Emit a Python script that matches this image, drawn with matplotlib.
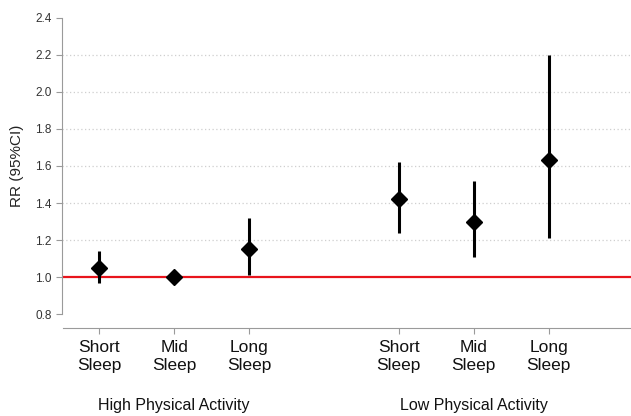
import matplotlib.pyplot as plt

plt.rcParams['font.family'] = ['Liberation Sans', 'DejaVu Sans']

positions = [1, 2, 3, 5, 6, 7]
cat_labels = ['Short\nSleep', 'Mid\nSleep', 'Long\nSleep',
              'Short\nSleep', 'Mid\nSleep', 'Long\nSleep']
rr = [1.05, 1.00, 1.15, 1.42, 1.30, 1.63]
ci_low = [0.97, 1.00, 1.01, 1.24, 1.11, 1.21]
ci_high = [1.14, 1.00, 1.32, 1.62, 1.52, 2.20]
group_labels = ['High Physical Activity', 'Low Physical Activity']
group_pos = [2, 6]

fig = plt.figure(figsize=(6.31, 4.16), dpi=100)
ax = fig.add_axes([0.098, 0.245, 0.902, 0.712])

for y in [1.2, 1.4, 1.6, 1.8, 2.0, 2.2]:
    ax.axhline(y, color='#cfcfcf', lw=0.9, ls=(0, (1, 2)), zorder=0)
ax.axhline(1.0, color='#e8141c', lw=1.6, zorder=1)

yerr = [[r - lo for r, lo in zip(rr, ci_low)],
        [hi - r for r, hi in zip(rr, ci_high)]]
ax.errorbar(positions, rr, yerr=yerr, fmt='D', color='black',
            ecolor='black', elinewidth=2.2, capsize=0, markersize=8.5, zorder=3)

ax.set_xlim(0.5, 8.1)
ax.set_ylim(0.8, 2.4)
ax.set_yticks([0.8, 1.0, 1.2, 1.4, 1.6, 1.8, 2.0, 2.2, 2.4])
ax.set_yticklabels(['0.8', '1.0', '1.2', '1.4', '1.6', '1.8', '2.0', '2.2', '2.4'])
ax.set_xticks(positions)
ax.set_xticklabels(cat_labels, linespacing=0.95)
ax.set_ylabel('RR (95%CI)', fontsize=11, color='#222222', labelpad=8)

for s in ['top', 'right']:
    ax.spines[s].set_visible(False)
ax.spines['left'].set_color('#9a9a9a')
ax.spines['bottom'].set_color('#9a9a9a')
ax.spines['bottom'].set_position(('outward', 10))
ax.spines['bottom'].set_bounds(0.52, 8.1)
ax.tick_params(axis='y', colors='#9a9a9a', labelcolor='#333333', labelsize=8.5, length=4)
ax.tick_params(axis='x', colors='#9a9a9a', labelcolor='#111111', labelsize=12.5,
               length=4, pad=5)

for x, lab in zip(group_pos, group_labels):
    ax.text(x, -0.307, lab, transform=ax.get_xaxis_transform(), ha='center',
            va='center', fontsize=11.5, color='#111111')

fig.savefig('out.png', dpi=100)
